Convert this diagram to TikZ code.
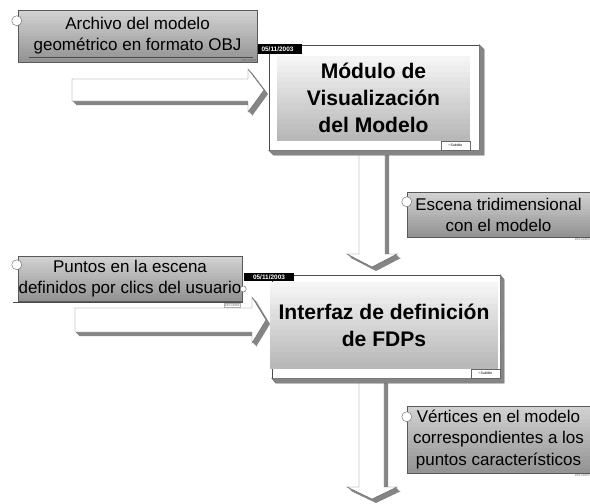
\documentclass[tikz,border=0pt]{standalone}
\usepackage{fontspec}
\setmainfont{Liberation Sans}
\usetikzlibrary{calc}

\begin{document}
\begin{tikzpicture}[x=0.03cm,y=0.03cm,
    vgrad/.style 2 args={path picture={\foreach \i in {0,...,15}{\pgfmathsetmacro\c{#1+(#2-#1)*\i/15}
      \fill[black!\c] ($(path picture bounding box.north west)!{\i/16}!(path picture bounding box.south west)$) rectangle ($(path picture bounding box.north east)!{(\i+1.1)/16}!(path picture bounding box.south east)$);}}},
    note/.style={draw=black!65,thin,vgrad={18}{42},inner sep=0pt,align=center,font=\fontsize{14.5}{18}\selectfont},
    mainface/.style={draw=black!70,thin,fill=white,inner sep=0pt},
    headbox/.style={vgrad={4}{28},inner sep=0pt,align=center,font=\bfseries\fontsize{18}{23}\selectfont},
    datetab/.style={fill=black,text=white,inner sep=0pt,font=\bfseries\fontsize{5.5}{6}\selectfont},
    hole/.style={circle,draw=black!55,fill=white,inner sep=0pt,minimum size=0.3cm},
    stamp/.style={inner sep=0.5pt,text=black!60,font=\fontsize{2.5}{3}\selectfont},
    subt/.style={draw=black!60,fill=white,inner sep=0.5pt,font=\fontsize{3}{3}\selectfont,minimum width=0.87cm,minimum height=0.27cm},
    blk/.style={fill=white,draw=black!60,thin},
    extr/.style={fill=black!48},
]
\useasboundingbox (0,0) rectangle (590,-503);

\foreach \d/\s in {4/extr,3/extr,2/extr,1/extr,0/blk}{
  \path[\s,shift={(\d,-\d)}] (72,-79) -- (248,-79) -- (248,-69) -- (264,-90) -- (248,-112) -- (248,-101) -- (72,-101) -- cycle;
  \path[\s,shift={(\d,-\d)}] (75,-308) -- (252,-308) -- (252,-297) -- (266,-320) -- (252,-343) -- (252,-332) -- (75,-332) -- cycle;
  \path[\s,shift={(\d,-\d)}] (359,-150) -- (385,-150) -- (385,-254) -- (397,-254) -- (372,-267) -- (347,-254) -- (359,-254) -- cycle;
  \path[\s,shift={(\d,-\d)}] (359,-378) -- (384,-378) -- (384,-487) -- (397,-487) -- (372,-499) -- (347,-487) -- (359,-487) -- cycle;
}

\node[mainface,minimum width=6.3cm,minimum height=3.15cm] (face1) at (374,-97.5) {};
\filldraw[extr,draw=black!60] (face1.north east) -- ++(5,-5) |- ($(face1.south west)+(5,-5)$) -- (face1.south west) -- (face1.south east) -- cycle;
\node[headbox,minimum width=5.79cm,minimum height=2.52cm] (title1) at (373.5,-98) {Módulo de\\Visualización\\del Modelo};
\node[datetab,minimum width=1.47cm,minimum height=0.3cm] (date1) at (277.5,-49) {05/11/2003};
\node[subt,anchor=south east] (sub1) at (title1.south east |- face1.south) {\textbullet\,Subtitle};

\node[mainface,minimum width=6.84cm,minimum height=3.09cm] (face2) at (386,-326.5) {};
\filldraw[extr,draw=black!60] (face2.north east) -- ++(4,-5) |- ($(face2.south west)+(4,-5)$) -- (face2.south west) -- (face2.south east) -- cycle;
\node[headbox,minimum width=6.84cm,minimum height=2.58cm] (title2) at (384,-325) {Interfaz de definición\\de FDPs};
\node[datetab,minimum width=1.5cm,minimum height=0.26cm] (date2) at (269,-277) {05/11/2003};
\node[subt,anchor=south east] (sub2) at (face2.south east) {\textbullet\,Subtitle};

\node[note,minimum width=7.17cm,minimum height=1.56cm] (arch) at (137.5,-36) {Archivo del modelo\\geométrico en formato OBJ};
\draw[black!70] ($(arch.south west)+(11,5)$) -- ($(arch.south east)+(-4,5)$);
\node[hole] (archhole) at ($(arch.north west)+(-1,-11)$) {};
\node[stamp,anchor=south east] (archdate) at (arch.south east) {28/11/2003};

\node[note,minimum width=5.49cm,minimum height=1.35cm] (esc) at (498.5,-214.5) {Escena tridimensional\\con el modelo};
\node[hole] (eschole) at ($(esc.north west)+(0,-10)$) {};
\node[stamp,anchor=north east] (escdate) at (esc.south east) {28/11/2003};

\node[note,minimum width=6.72cm,minimum height=1.35cm] (pts) at (130,-278.5) {Puntos en la escena\\definidos por clics del usuario};
\draw[black!70] ($(pts.south west)+(-5,-1)$) -- ($(pts.south east)+(1,-1)$);
\node[hole] (ptshole) at ($(pts.north west)+(-1,-9)$) {};
\node[hole,minimum size=0.18cm] (ptsend) at ($(pts.east)+(1,-10.5)$) {};
\node[stamp,draw=black!30,anchor=north east] (ptsdate) at ($(pts.south east)+(-2,-2)$) {28/11/2003};

\node[note,minimum width=5.49cm,minimum height=2.01cm] (vert) at (498.5,-439.5) {Vértices en el modelo\\correspondientes a los\\puntos característicos};
\node[hole] (verthole) at ($(vert.north west)+(0,-11)$) {};
\node[stamp,anchor=north east] (vertdate) at (vert.south east) {28/11/2003};
\end{tikzpicture}
\end{document}
